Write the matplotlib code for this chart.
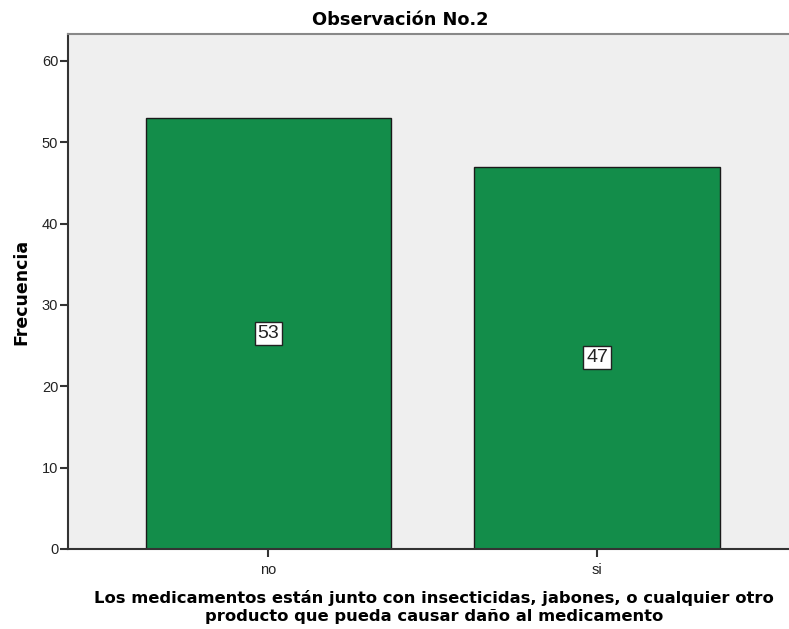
import numpy as np
import matplotlib.pyplot as plt

plt.rcParams['font.family'] = ['Liberation Sans', 'DejaVu Sans']

categories = ['no', 'si']
counts = [53, 47]

bar_color = '#138D4A'
bg_color = '#EFEFEF'

fig = plt.figure(figsize=(7.89, 6.29), dpi=100)
ax = fig.add_axes([68/789, 80/629, 721/789, 515/629])
ax.set_facecolor(bg_color)

x = np.arange(len(categories))
ax.bar(x, counts, width=0.747, color=bar_color, edgecolor='#1a1a1a', linewidth=1.0, zorder=2)

for xi, c in zip(x, counts):
    ax.text(xi, c / 2, str(c), ha='center', va='center', fontsize=14, color='#222222',
            family=['Liberation Sans Narrow', 'Liberation Sans'],
            bbox=dict(boxstyle='square,pad=0.15', facecolor='white', edgecolor='#222222', linewidth=1.0),
            zorder=3)

ax.set_xlim(-0.610, 1.584)
ax.set_ylim(0, 63.3)
ax.set_xticks(x)
ax.set_xticklabels(categories)
ax.set_yticks(np.arange(0, 61, 10))

ax.tick_params(axis='both', colors='#333333', labelsize=10.5, length=6, width=1.5, labelcolor='#222222')
ax.tick_params(axis='x', pad=4)
ax.tick_params(axis='y', pad=1)

for s in ['left', 'bottom']:
    ax.spines[s].set_color('#333333')
    ax.spines[s].set_linewidth(1.5)
ax.spines['top'].set_color('#888888')
ax.spines['top'].set_linewidth(1.5)
ax.spines['right'].set_visible(False)

fig.text(400/789, 1 - 20/629, 'Observación No.2', fontsize=12.8, fontweight='bold',
         family='DejaVu Sans', ha='center', va='center')
ax.set_ylabel('Frecuencia', fontsize=12.5, fontweight='bold', family='DejaVu Sans', labelpad=8)
ax.set_xlabel('Los medicamentos están junto con insecticidas, jabones, o cualquier otro\n'
              'producto que pueda causar daño al medicamento',
              fontsize=11.75, fontweight='bold', family='DejaVu Sans', linespacing=1.2)
ax.xaxis.set_label_coords((434 - 68) / 721, -(607 - 549) / 515, transform=ax.transAxes)
ax.xaxis.label.set_va('center')

fig.savefig('out.png', dpi=100)
plt.close()
